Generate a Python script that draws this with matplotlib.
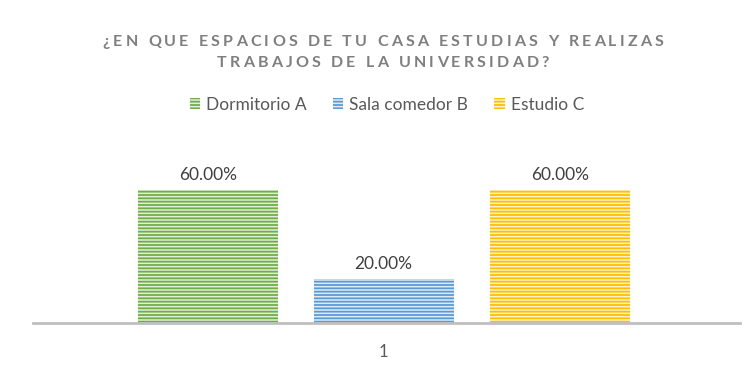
import matplotlib
matplotlib.use("Agg")
import matplotlib.pyplot as plt
import numpy as np

# datos de la encuesta
series = ["Dormitorio A", "Sala comedor B", "Estudio C"]
valores = [0.60, 0.20, 0.60]
categorias = ["1"]
titulo = ["¿EN QUE ESPACIOS DE TU CASA ESTUDIAS Y REALIZAS",
          "TRABAJOS DE LA UNIVERSIDAD?"]

color_linea = ["#70ad47", "#5b9bd5", "#ffc000"]
color_fondo = ["#e2efd9", "#deebf7", "#fff2cc"]

plt.rcParams["font.family"] = ["Lato", "DejaVu Sans"]
plt.rcParams["hatch.linewidth"] = 1.3

W, H = 745, 365
fig = plt.figure(figsize=(W / 100, H / 100), dpi=100)
fig.patch.set_facecolor("white")

# area del grafico en pixeles
x0, x1, yb = 33, 740, 323
ymax = 0.7
alto = 222 * ymax
ax = fig.add_axes([x0 / W, (H - yb) / H, (x1 - x0) / W, alto / H])

ancho = 0.198
desp = [-0.249, 0.0, 0.249]
barras = []
for i, (nom, v) in enumerate(zip(series, valores)):
    b = ax.bar(1 + desp[i], v, width=ancho, color=color_fondo[i],
               edgecolor=color_linea[i], linewidth=0, hatch="-----",
               label=nom)
    barras.append(b)
    ax.text(1 + desp[i], v + 0.03, f"{v * 100:.2f}%", ha="center",
            va="bottom", fontsize=12.5, color="#404040")

ax.set_xlim(0.504, 1.504)
ax.set_ylim(0, ymax)
for s in ["top", "right", "left"]:
    ax.spines[s].set_visible(False)
ax.spines["bottom"].set_color("#bfbfbf")
ax.spines["bottom"].set_linewidth(2)
ax.set_yticks([])
ax.set_xticks([1])
ax.set_xticklabels(categorias, fontsize=12, color="#595959")
ax.tick_params(axis="x", length=0, pad=15)

# titulo con espaciado entre letras
renderer = fig.canvas.get_renderer()
tam_titulo = 11.5
track = 3.2


def ancho_car(c):
    if c == " ":
        a = fig.text(0, 0, "aa", fontsize=tam_titulo, fontweight="bold")
        b = fig.text(0, 0, "a a", fontsize=tam_titulo, fontweight="bold")
        w = b.get_window_extent(renderer).width - a.get_window_extent(renderer).width
        a.remove(); b.remove()
        return w
    t = fig.text(0, 0, c, fontsize=tam_titulo, fontweight="bold")
    w = t.get_window_extent(renderer).width
    t.remove()
    return w


for linea, yl in zip(titulo, [42, 63]):
    anchos = [ancho_car(c) for c in linea]
    total = sum(anchos) + track * (len(linea) - 1)
    x = 383 - total / 2
    for c, w in zip(linea, anchos):
        if c != " ":
            fig.text(x / W, 1 - yl / H, c, fontsize=tam_titulo,
                     fontweight="bold", color="#7f7f7f", ha="left",
                     va="center")
        x += w + track

fig.legend(handles=[b[0] for b in barras], labels=series, ncol=3,
           loc="center", bbox_to_anchor=(387 / W, 1 - 105 / H),
           frameon=False, fontsize=12.5, labelcolor="#595959",
           handlelength=0.6, handleheight=0.6, handletextpad=0.35,
           columnspacing=1.5)

fig.savefig("out.png", dpi=100)
